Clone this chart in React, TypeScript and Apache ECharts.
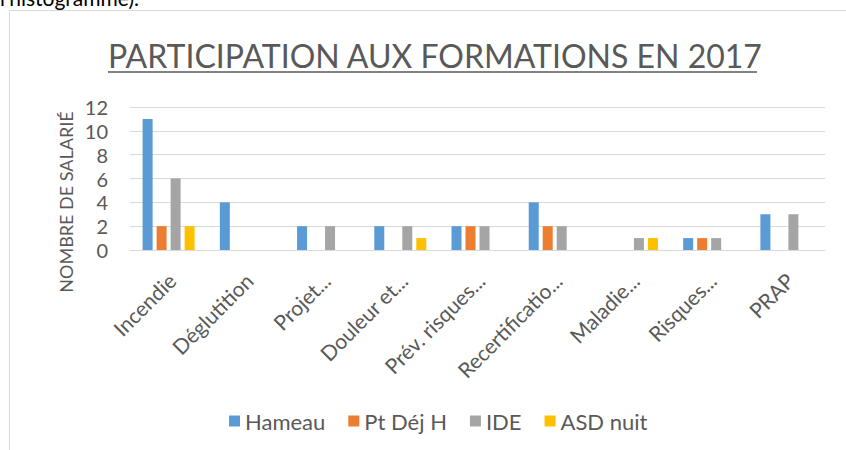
import React, { useEffect, useRef } from "react";
import * as echarts from "echarts";

const categories = [
  "Incendie",
  "Déglutition",
  "Projet...",
  "Douleur et...",
  "Prév. risques...",
  "Recertificatio...",
  "Maladie...",
  "Risques...",
  "PRAP",
];
const seriesNames = ["Hameau", "Pt Déj H", "IDE", "ASD nuit"];
const hameau = [11, 4, 2, 2, 2, 4, 0, 1, 3];
const ptDejH = [2, 0, 0, 0, 2, 2, 0, 1, 0];
const ide = [6, 0, 2, 2, 2, 2, 1, 1, 3];
const asdNuit = [2, 0, 0, 1, 0, 0, 1, 0, 0];
const colors = ["#5B9BD5", "#ED7D31", "#A5A5A5", "#FFC000"];
const yTicks = { min: 0, max: 12, interval: 2 };
const titleText = "PARTICIPATION AUX FORMATIONS EN 2017";
const yAxisTitle = "NOMBRE DE SALARIÉ";
const topFragment = "l'histogramme).";

const FONT = "Lato, 'Open Sans', sans-serif";
const TXT = "#595959";

export default function App() {
  const ref = useRef<HTMLDivElement>(null);
  useEffect(() => {
    if (!ref.current) return;
    const chart = echarts.init(ref.current, undefined, { renderer: "svg" });
    const titleSize = 32;
    const titleLeft = 108;
    let titleWidth = 649;
    try {
      const ctx = document.createElement("canvas").getContext("2d");
      if (ctx) {
        ctx.font = `${titleSize}px Lato`;
        titleWidth = ctx.measureText(titleText).width;
      }
    } catch (e) {}
    const data = [hameau, ptDejH, ide, asdNuit];
    chart.setOption({
      animation: false,
      backgroundColor: "#ffffff",
      title: {
        text: titleText,
        left: titleLeft - 5,
        top: 34,
        textStyle: { fontFamily: FONT, fontSize: titleSize, fontWeight: "normal", color: TXT },
      },
      legend: {
        data: seriesNames,
        left: 224,
        top: 405,
        icon: "rect",
        itemWidth: 11,
        itemHeight: 11,
        itemGap: 23,
        textStyle: { fontFamily: FONT, fontSize: 22, color: TXT },
      },
      grid: { left: 130, right: 21, top: 107, bottom: 200 },
      xAxis: {
        type: "category",
        data: categories,
        axisLine: { lineStyle: { color: "#D9D9D9" } },
        axisTick: { show: false },
        axisLabel: {
          rotate: 45,
          interval: 0,
          margin: 15,
          verticalAlign: "top",
          padding: [0, 6, 0, 0],
          fontFamily: FONT,
          fontSize: 21,
          color: TXT,
        },
      },
      yAxis: {
        type: "value",
        min: yTicks.min,
        max: yTicks.max,
        interval: yTicks.interval,
        axisLine: { show: false },
        axisTick: { show: false },
        splitLine: { lineStyle: { color: "#D9D9D9" } },
        axisLabel: { margin: 22, fontFamily: FONT, fontSize: 20, color: TXT },
      },
      series: seriesNames.map((name, i) => ({
        name,
        type: "bar",
        data: data[i],
        barWidth: 10,
        barGap: "40%",
        itemStyle: { color: colors[i] },
      })),
      graphic: [
        {
          type: "rect",
          shape: { x: 9.5, y: 10.5, width: 860, height: 460 },
          style: { fill: "none", stroke: "#D9D9D9", lineWidth: 1 },
          z: -1,
        },
        {
          type: "line",
          shape: { x1: titleLeft, y1: 72, x2: titleLeft + titleWidth - 6, y2: 72 },
          style: { stroke: TXT, lineWidth: 1.5 },
        },
        {
          type: "text",
          x: 66,
          y: 202,
          rotation: Math.PI / 2,
          style: {
            text: yAxisTitle,
            fontFamily: FONT,
            fontSize: 18,
            fill: TXT,
            align: "center",
            verticalAlign: "middle",
          },
        },
        {
          type: "text",
          x: 0,
          y: -3,
          style: {
            text: topFragment,
            fontFamily: FONT,
            fontSize: 21,
            fill: "#000000",
            align: "left",
            verticalAlign: "middle",
          },
        },
      ],
    });
    return () => chart.dispose();
  }, []);
  return (
    <div
      ref={ref}
      style={{ position: "fixed", left: 0, top: 0, width: 846, height: 450 }}
    />
  );
}
